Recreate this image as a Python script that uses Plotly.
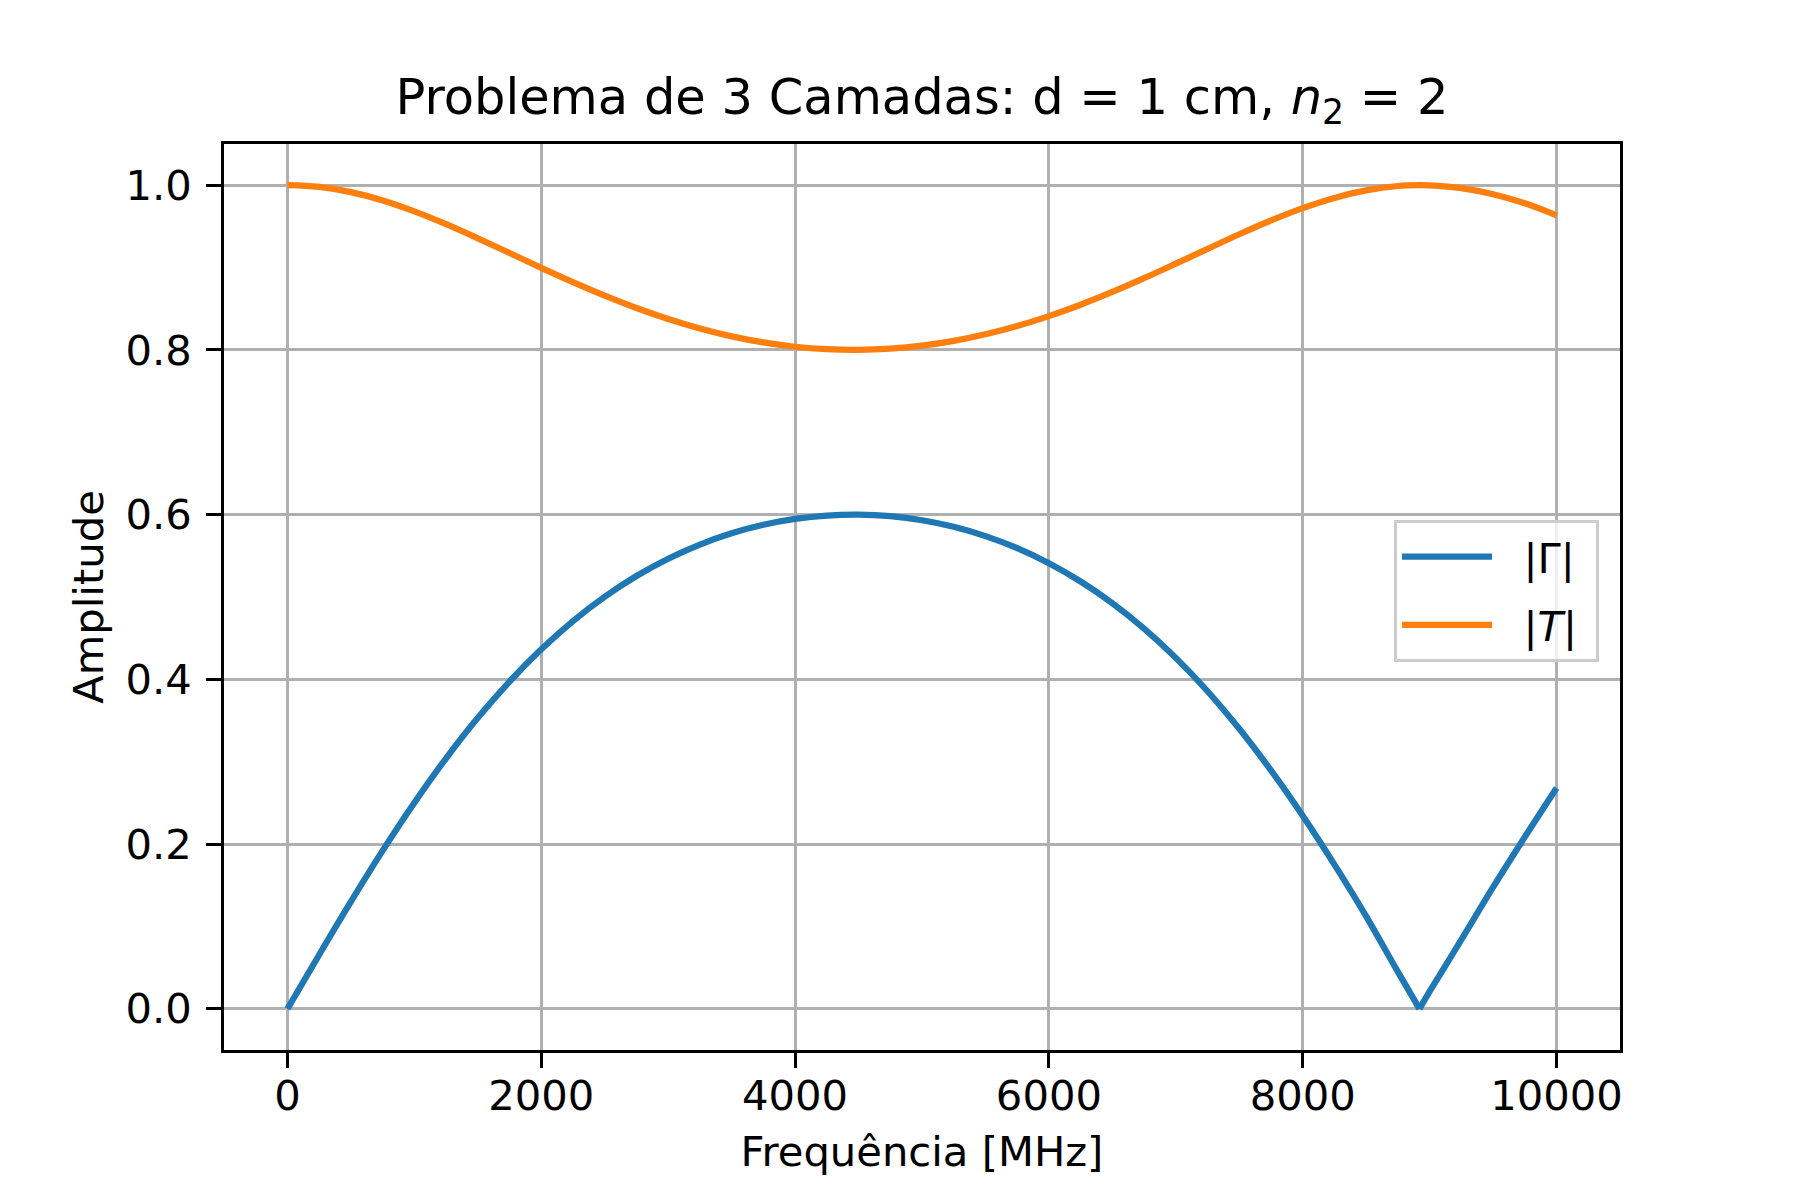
import plotly.graph_objects as go

# Frequency samples [MHz]
freq = [0, 250, 500, 750, 1000, 1250, 1500, 1750, 2000, 2250, 2500, 2750, 3000,
        3250, 3500, 3750, 4000, 4250, 4500, 4750, 5000, 5250, 5500, 5750, 6000,
        6250, 6500, 6750, 7000, 7250, 7500, 7750, 8000, 8250, 8500, 8750, 8920,
        9000, 9250, 9500, 9750, 10000]

# |Gamma|
gamma = [0.0, 0.0657, 0.1301, 0.1920, 0.2502, 0.3042, 0.3533, 0.3974, 0.4365,
         0.4708, 0.5003, 0.5255, 0.5465, 0.5637, 0.5774, 0.5877, 0.5948, 0.5989,
         0.6000, 0.5981, 0.5932, 0.5852, 0.5739, 0.5593, 0.5410, 0.5188, 0.4925,
         0.4617, 0.4261, 0.3856, 0.3401, 0.2895, 0.2343, 0.1750, 0.1123, 0.0449,
         0.0, 0.0211, 0.0839, 0.1477, 0.2087, 0.2682]

# |T|
trans = [1.0, 0.99784, 0.99150, 0.98140, 0.96819, 0.95262, 0.93551, 0.91763,
         0.89968, 0.88226, 0.86585, 0.85082, 0.83746, 0.82596, 0.81646, 0.80907,
         0.80385, 0.80082, 0.80002, 0.80145, 0.80509, 0.81093, 0.81891, 0.82898,
         0.84102, 0.85487, 0.87032, 0.88705, 0.90467, 0.92266, 0.94041, 0.95717,
         0.97216, 0.98457, 0.99367, 0.99899, 1.0, 0.99978, 0.99647, 0.98903,
         0.97799, 0.96340]

x_ticks = [0, 2000, 4000, 6000, 8000, 10000]
y_ticks = [0.0, 0.2, 0.4, 0.6, 0.8, 1.0]

FONT = "DejaVu Sans"
FS = 41.7
SP = "\u00a0\u00a0"
END = "\u00a0"

# the |Gamma| curve has a cusp at its zero; smooth each side separately
cusp = gamma.index(0.0, 1)

fig = go.Figure()
fig.add_trace(go.Scatter(x=freq[:cusp + 1], y=gamma[:cusp + 1], mode="lines",
                         name=SP + "|Γ|" + END, legendgroup="g",
                         line=dict(color="#1f77b4", width=6.25,
                                   shape="spline", smoothing=1.0)))
fig.add_trace(go.Scatter(x=freq[cusp:], y=gamma[cusp:], mode="lines",
                         name=SP + "|Γ|" + END, legendgroup="g", showlegend=False,
                         line=dict(color="#1f77b4", width=6.25,
                                   shape="spline", smoothing=1.0)))
fig.add_trace(go.Scatter(x=freq, y=trans, mode="lines",
                         name=SP + "|<i>T</i>|" + END, legendgroup="t",
                         line=dict(color="#ff7f0e", width=6.25,
                                   shape="spline", smoothing=1.0)))

axis_common = dict(
    showgrid=True, gridcolor="#b0b0b0", gridwidth=3.3,
    zeroline=False,
    showline=True, linecolor="black", linewidth=3.3, mirror=True,
    ticks="outside", ticklen=14.6, tickwidth=3.3, tickcolor="black",
    tickfont=dict(family=FONT, size=FS, color="black"),
)

fig.update_xaxes(range=[-500, 10500], tickvals=x_ticks,
                 ticktext=[str(v) for v in x_ticks],
                 ticklabelstandoff=-8,
                 title=dict(text="Frequência [MHz]",
                            font=dict(family=FONT, size=FS, color="black"),
                            standoff=19),
                 **axis_common)
fig.update_yaxes(range=[-0.05, 1.05], tickvals=y_ticks,
                 ticktext=[f"{v:.1f}" for v in y_ticks],
                 ticklabelstandoff=6,
                 title=dict(text="Amplitude",
                            font=dict(family=FONT, size=FS, color="black"),
                            standoff=10),
                 **axis_common)

fig.update_layout(
    width=1784, height=1184,
    margin=dict(l=216, r=172, t=136, b=142, autoexpand=False),
    paper_bgcolor="white", plot_bgcolor="white",
    font=dict(family=FONT, size=FS, color="black"),
    title=dict(text="Problema de 3 Camadas: d = 1 cm, <i>n</i><sub>2</sub> = 2",
               font=dict(family=FONT, size=49.5, color="black"),
               x=0.5, xref="paper", xanchor="center",
               y=0.9105, yref="container", yanchor="bottom"),
    legend=dict(x=0.985, y=0.585, xanchor="right", yanchor="top",
                bgcolor="rgba(255,255,255,0.8)", bordercolor="#cccccc",
                borderwidth=3, font=dict(family=FONT, size=FS, color="black"),
                itemwidth=90, tracegroupgap=11, traceorder="grouped"),
    showlegend=True,
)

fig.write_html("out.html")
